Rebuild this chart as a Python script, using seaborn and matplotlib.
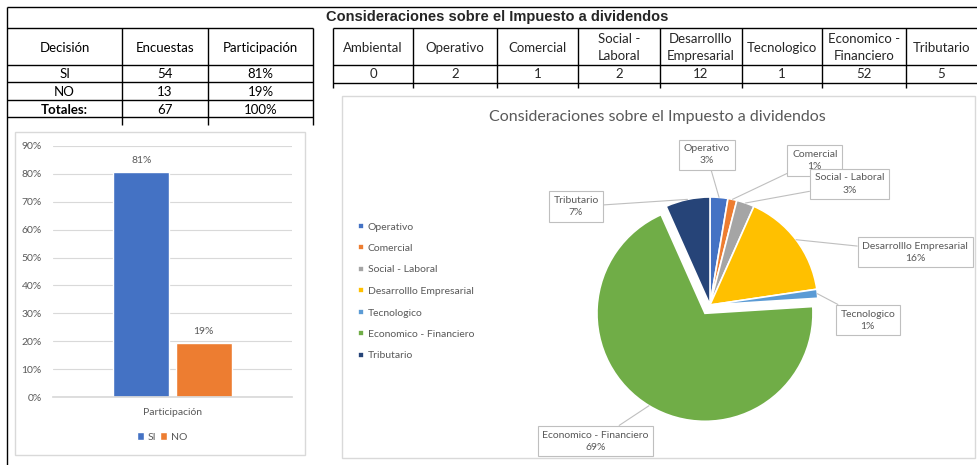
import numpy as np
import pandas as pd
import matplotlib
matplotlib.use("Agg")
import matplotlib.pyplot as plt
from matplotlib.patches import Rectangle
import seaborn as sns

# ------------------------------------------
# datos
# ------------------------------------------
decisiones = ["SI", "NO"]
encuestas = [54, 13]
participacion_txt = ["81%", "19%"]
total_encuestas = 67

categorias = ["Ambiental", "Operativo", "Comercial", "Social - Laboral",
              "Desarrolllo Empresarial", "Tecnologico",
              "Economico - Financiero", "Tributario"]
cabeceras = ["Ambiental", "Operativo", "Comercial", "Social -\nLaboral",
             "Desarrolllo\nEmpresarial", "Tecnologico",
             "Economico -\nFinanciero", "Tributario"]
conteos = [0, 2, 1, 2, 12, 1, 52, 5]

TITULO = "Consideraciones sobre el Impuesto a dividendos"

# ------------------------------------------
# estilo
# ------------------------------------------
sns.set_theme(style="white")
plt.rcParams['font.family'] = ['Lato', 'DejaVu Sans']

W, H = 977, 465
GRIS_TXT = "#595959"
GRIS_LIN = "#D9D9D9"
colores_pie = ["#4472C4", "#ED7D31", "#A5A5A5", "#FFC000",
               "#5B9BD5", "#70AD47", "#264478"]


def px_rect(x0, y0, x1, y1):
    return [x0 / W, 1 - y1 / H, (x1 - x0) / W, (y1 - y0) / H]


fig = plt.figure(figsize=(W / 100, H / 100), dpi=100)
fig.patch.set_facecolor("white")

# capa para tablas y marcos (coordenadas en pixeles)
base = fig.add_axes([0, 0, 1, 1])
base.set_xlim(0, W)
base.set_ylim(H, 0)
base.axis("off")
base.patch.set_alpha(0)


def linea(x0, y0, x1, y1, lw=1.0, c="black"):
    base.plot([x0, x1], [y0, y1], color=c, lw=lw, solid_capstyle="butt")


# titulo general
linea(7, 7, W, 7)
base.text(497, 17.5, TITULO, ha="center", va="center", fontsize=10.5,
          fontweight="bold", family=["Liberation Sans", "DejaVu Sans"])

# tabla izquierda
xs1 = [7, 122, 208, 313]
ys1 = [28, 65, 82, 100, 117]
for y in ys1:
    linea(xs1[0], y, xs1[-1], y)
linea(7, 7, 7, H)
for x in xs1[1:]:
    linea(x, 28, x, 125)
filas1 = [["Decisión", "Encuestas", "Participación"]]
for d, e, p in zip(decisiones, encuestas, participacion_txt):
    filas1.append([d, str(e), p])
filas1.append(["Totales:", str(total_encuestas), "100%"])
for i, fila in enumerate(filas1):
    yc = (ys1[i] + ys1[i + 1]) / 2
    for j, txt in enumerate(fila):
        xc = (xs1[j] + xs1[j + 1]) / 2
        fw = "bold" if txt == "Totales:" else "normal"
        base.text(xc, yc + 1, txt, ha="center", va="center", fontsize=9.5,
                  fontweight=fw, color="black")

# tabla derecha
xs2 = [333, 413, 497, 578, 660, 742, 822, 906, W]
ys2 = [28, 65, 83]
for y in ys2:
    linea(xs2[0], y, W, y)
for x in xs2[:-1]:
    linea(x, 28, x, 88)
for j, (cab, n) in enumerate(zip(cabeceras, conteos)):
    xc = (xs2[j] + xs2[j + 1]) / 2
    base.text(xc, (ys2[0] + ys2[1]) / 2 + 1, cab, ha="center", va="center",
              fontsize=9.5, linespacing=1.55)
    base.text(xc, (ys2[1] + ys2[2]) / 2, str(n), ha="center", va="center",
              fontsize=9.5)

# marcos de los graficos
base.add_patch(Rectangle((15, 132), 290, 323, fill=False, ec=GRIS_LIN, lw=1))
base.add_patch(Rectangle((342, 96), 633, 362, fill=False, ec=GRIS_LIN, lw=1))

# ------------------------------------------
# grafico de barras (seaborn)
# ------------------------------------------
df_bar = pd.DataFrame({
    "serie": ["Participación"] * len(decisiones),
    "decision": decisiones,
    "valor": [e / total_encuestas for e in encuestas],
})

ax_bar = fig.add_axes(px_rect(53, 146, 292, 397))
ax_bar.patch.set_alpha(0)
sns.barplot(data=df_bar, x="serie", y="valor", hue="decision",
            palette=["#4472C4", "#ED7D31"], width=0.52, gap=0.1,
            saturation=1, ax=ax_bar)
ax_bar.set_ylim(0, 0.9)
ax_bar.set_xlim(-0.5, 0.5)
ax_bar.set_yticks(np.arange(0, 0.91, 0.1))
ax_bar.set_yticklabels([f"{int(round(v * 100))}%" for v in np.arange(0, 0.91, 0.1)])
ax_bar.yaxis.grid(True, color=GRIS_LIN, lw=0.8)
ax_bar.set_axisbelow(True)
for s in ["left", "right", "top"]:
    ax_bar.spines[s].set_visible(False)
ax_bar.spines["bottom"].set_color(GRIS_LIN)
ax_bar.tick_params(axis="both", length=0, labelsize=7.5, colors=GRIS_TXT)
ax_bar.tick_params(axis="x", pad=8, labelsize=7.5)
ax_bar.tick_params(axis="y", pad=8)
ax_bar.set_xlabel("")
ax_bar.set_ylabel("")
for cont, txt in zip(ax_bar.containers, participacion_txt):
    ax_bar.bar_label(cont, labels=[txt], padding=5, fontsize=7.5, color=GRIS_TXT)
ax_bar.legend(loc="center", bbox_to_anchor=(162 / W, 1 - 437 / H),
              bbox_transform=fig.transFigure, ncol=2, frameon=False,
              fontsize=7.5, labelcolor=GRIS_TXT, handlelength=0.7,
              handleheight=0.7, handletextpad=0.3, columnspacing=0.4)

# ------------------------------------------
# grafico circular
# ------------------------------------------
pie_cats = categorias[1:]
pie_vals = conteos[1:]
explode = [0, 0, 0, 0, 0, 0.09, 0]

# posiciones de las etiquetas (radios del pastel)
pos_etiquetas = [(-0.03, 1.39), (0.97, 1.34), (1.29, 1.12), (1.90, 0.49),
                 (1.46, -0.14), (-1.06, -1.26), (-1.24, 0.91)]

ax_pie = fig.add_axes(px_rect(342, 96, 975, 458))
ax_pie.patch.set_alpha(0)
wedges, _ = ax_pie.pie(pie_vals, colors=colores_pie, startangle=90,
                       counterclock=False, explode=explode,
                       wedgeprops=dict(edgecolor="white", linewidth=1.2))
ax_pie.set_xlim((342 - 710) / 108, (975 - 710) / 108)
ax_pie.set_ylim(-(458 - 305) / 108, (305 - 96) / 108)
ax_pie.set_aspect("auto")
ax_pie.axis("off")

total_pie = sum(pie_vals)
for w, cat, v, pos, ex in zip(wedges, pie_cats, pie_vals, pos_etiquetas, explode):
    ang = np.deg2rad((w.theta1 + w.theta2) / 2)
    r = 1 + ex
    ax_pie.annotate(f"{cat}\n{v / total_pie:.0%}",
                    xy=(r * np.cos(ang), r * np.sin(ang)), xytext=pos,
                    ha="center", va="center", fontsize=7.5, color=GRIS_TXT,
                    linespacing=1.45,
                    bbox=dict(boxstyle="square,pad=0.45", fc="white",
                              ec="#BFBFBF", lw=0.8),
                    arrowprops=dict(arrowstyle="-", color="#BFBFBF", lw=0.8,
                                    shrinkA=0, shrinkB=0))

fig.text(657 / W, 1 - 117 / H, TITULO, ha="center", va="center",
         fontsize=11.5, color=GRIS_TXT)

ax_pie.legend(wedges, pie_cats, loc="center left",
              bbox_to_anchor=(349 / W, 1 - 291.5 / H),
              bbox_transform=fig.transFigure, frameon=False, fontsize=7.5,
              labelcolor=GRIS_TXT, handlelength=0.5, handleheight=0.5,
              handletextpad=0.4, labelspacing=1.2)

fig.savefig("out.png", dpi=100)
